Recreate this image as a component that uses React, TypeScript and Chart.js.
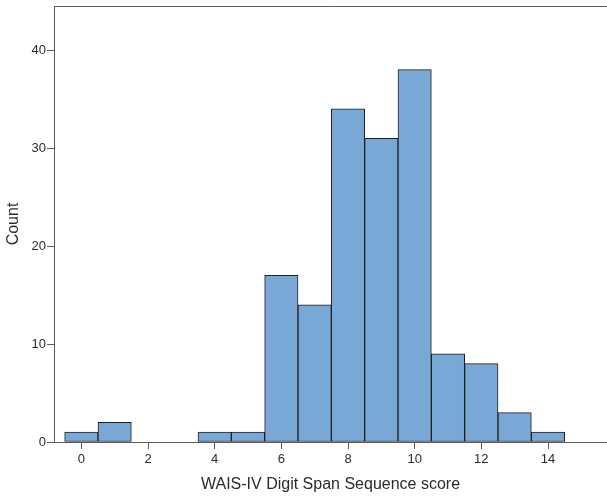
import { useEffect, useRef } from "react";
import { Chart, registerables } from "chart.js";

Chart.register(...registerables);

// Histogram bins: centre of each bin and its count
const scores = [0, 1, 2, 3, 4, 5, 6, 7, 8, 9, 10, 11, 12, 13, 14];
const counts = [1, 2, 0, 0, 1, 1, 17, 14, 34, 31, 38, 9, 8, 3, 1];
const xTicks = [0, 2, 4, 6, 8, 10, 12, 14];
const yTicks = [0, 10, 20, 30, 40];

const textColor = "#2b2b2b";
const axisColor = "#5a5a5a";
const font = "'Liberation Sans', Arial, sans-serif";

// Draw the frame line along the top of the plot area
const topFrame = {
  id: "topFrame",
  afterDraw(chart: Chart) {
    const { ctx, chartArea } = chart;
    ctx.save();
    ctx.strokeStyle = axisColor;
    ctx.lineWidth = 1;
    ctx.beginPath();
    ctx.moveTo(chartArea.left, Math.round(chartArea.top) + 0.5);
    ctx.lineTo(chartArea.right, Math.round(chartArea.top) + 0.5);
    ctx.stroke();
    ctx.restore();
  },
};

const App = () => {
  const canvasRef = useRef<HTMLCanvasElement | null>(null);

  useEffect(() => {
    document.body.style.margin = "0";
    if (!canvasRef.current) return;
    const ctx = canvasRef.current.getContext("2d");
    if (!ctx) return;

    const chart = new Chart(ctx, {
      type: "bar",
      data: {
        datasets: [
          {
            label: "Count",
            data: scores.map((s, i) => ({ x: s, y: counts[i] === 0 ? null : counts[i] })),
            backgroundColor: "#79a8d6",
            borderColor: "#1f1f1f",
            borderWidth: 1,
            borderSkipped: false,
            barPercentage: 1,
            categoryPercentage: 1,
          },
        ],
      },
      options: {
        animation: false,
        responsive: false,
        layout: { padding: { top: 6, right: 0, left: 0, bottom: 0 } },
        plugins: {
          legend: { display: false },
          tooltip: { enabled: false },
        },
        scales: {
          x: {
            type: "linear",
            offset: false,
            min: -0.82,
            max: 15.77,
            afterBuildTicks: (scale) => {
              scale.ticks = xTicks.map((v) => ({ value: v }));
            },
            afterFit: (scale) => {
              scale.height = 57;
              scale.paddingLeft = 0;
              scale.paddingRight = 0;
            },
            ticks: {
              color: textColor,
              font: { family: font, size: 13 },
              padding: 3,
              maxRotation: 0,
            },
            grid: {
              offset: false,
              drawOnChartArea: false,
              drawTicks: true,
              tickLength: 7,
              tickColor: axisColor,
            },
            border: { display: true, color: axisColor },
            title: {
              display: true,
              text: "WAIS-IV Digit Span Sequence score",
              color: textColor,
              font: { family: font, size: 16 },
              padding: { top: 0, bottom: 5 },
            },
          },
          y: {
            min: 0,
            max: 44.5,
            afterBuildTicks: (scale) => {
              scale.ticks = yTicks.map((v) => ({ value: v }));
            },
            afterFit: (scale) => {
              scale.width = 54;
              scale.paddingTop = 0;
              scale.paddingBottom = 0;
            },
            ticks: {
              color: textColor,
              font: { family: font, size: 13 },
              padding: 1,
            },
            grid: {
              drawOnChartArea: false,
              drawTicks: true,
              tickLength: 7,
              tickColor: axisColor,
            },
            border: { display: true, color: axisColor },
            title: {
              display: true,
              text: "Count",
              color: textColor,
              font: { family: font, size: 16 },
              padding: { top: 4, bottom: 0 },
            },
          },
        },
      },
      plugins: [topFrame],
    });

    return () => {
      chart.destroy();
    };
  }, []);

  return (
    <div style={{ width: 607, height: 499 }}>
      <canvas ref={canvasRef} width={607} height={499} />
    </div>
  );
};

export default App;
